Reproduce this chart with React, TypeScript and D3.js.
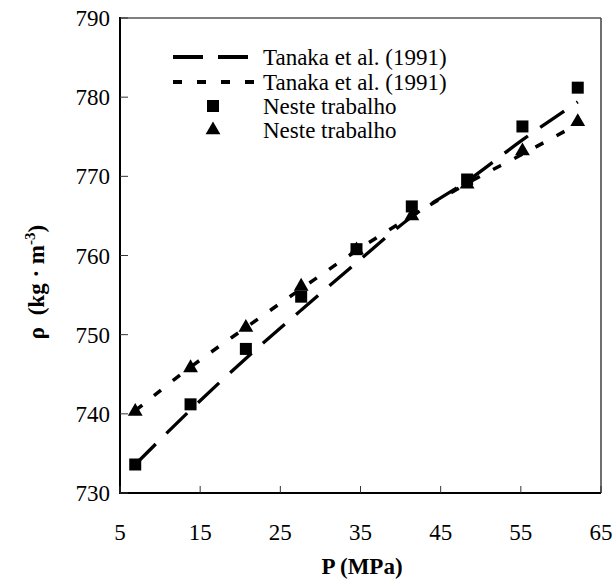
import React from "react";
import * as d3 from "d3";

const pressure = [6.9, 13.8, 20.7, 27.6, 34.5, 41.4, 48.3, 55.2, 62.1];
const nesteSquares = [733.6, 741.2, 748.2, 754.8, 760.8, 766.2, 769.6, 776.3, 781.2];
const nesteTriangles = [740.3, 745.8, 750.9, 756.1, 760.7, 765.0, 769.0, 773.2, 776.9];
const tanakaLong = [733.6, 740.5, 747.0, 753.1, 759.1, 764.9, 769.4, 774.6, 779.4];
const tanakaShort = [740.4, 745.9, 750.9, 755.8, 760.6, 765.0, 769.1, 772.8, 776.6];
const xTicks = [5, 15, 25, 35, 45, 55, 65];
const yTicks = [730, 740, 750, 760, 770, 780, 790];
const legendLabels = ["Tanaka et al. (1991)", "Tanaka et al. (1991)", "Neste trabalho", "Neste trabalho"];

const W = 616, H = 586;
const L = 120, R = 601, T = 18, B = 493;
const FONT = "Liberation Serif, serif";

export default function App() {
  const x = d3.scaleLinear().domain([5, 65]).range([L, R]);
  const y = d3.scaleLinear().domain([730, 790]).range([B, T]);
  const line = d3.line<number>().x((_, i) => x(pressure[i])).y((d) => y(d)).curve(d3.curveMonotoneX);
  const tri = d3.symbol().type(d3.symbolTriangle).size(95)();
  const legendY = [57, 82, 106, 130];
  const ts = { fontFamily: FONT };
  return (
    <svg width={W} height={H} style={{ position: "absolute", left: 0, top: 0, background: "#fff" }}>
      <rect x={0} y={0} width={W} height={H} fill="#fff" />
      <line x1={R} y1={T} x2={R} y2={B} stroke="#222" strokeWidth={1.3} />
      <line x1={L} y1={T} x2={R} y2={T} stroke="#555" strokeWidth={1.3} />
      <line x1={L} y1={T - 1} x2={L} y2={B + 1} stroke="#000" strokeWidth={2} />
      <line x1={L - 1} y1={B} x2={R} y2={B} stroke="#000" strokeWidth={2} />
      {yTicks.map((t) => (
        <g key={"y" + t}>
          <line x1={L} x2={L + 8} y1={y(t)} y2={y(t)} stroke="#333" strokeWidth={1} />
          <text x={L - 10} y={y(t)} dy="0.35em" textAnchor="end" fontSize={23} style={ts}>{t}</text>
        </g>
      ))}
      {xTicks.map((t) => (
        <g key={"x" + t}>
          <line x1={x(t)} x2={x(t)} y1={B} y2={B - 7} stroke="#333" strokeWidth={1} />
          <text x={x(t)} y={540} textAnchor="middle" fontSize={23} style={ts}>{t}</text>
        </g>
      ))}
      <text x={362} y={574} textAnchor="middle" fontSize={23} fontWeight="bold" style={ts}>P (MPa)</text>
      <text transform={`translate(44, 282) rotate(-90)`} textAnchor="middle" fontSize={23} fontWeight="bold" style={ts}>
        ρ{"\u00a0\u00a0"}(kg · m<tspan dy="-9" fontSize={15}>-3</tspan><tspan dy="9">)</tspan>
      </text>
      <path d={line(tanakaLong) || ""} fill="none" stroke="#000" strokeWidth={3.3} strokeDasharray="29,15" />
      <path d={line(tanakaShort) || ""} fill="none" stroke="#000" strokeWidth={3.5} strokeDasharray="9,15" />
      {nesteSquares.map((v, i) => (
        <rect key={"s" + i} x={x(pressure[i]) - 6} y={y(v) - 6} width={12} height={12} fill="#000" />
      ))}
      {nesteTriangles.map((v, i) => (
        <path key={"t" + i} d={tri || ""} transform={`translate(${x(pressure[i])},${y(v)})`} fill="#000" />
      ))}
      <line x1={173} x2={255} y1={legendY[0]} y2={legendY[0]} stroke="#000" strokeWidth={4} strokeDasharray="30,15" />
      <line x1={173} x2={256} y1={legendY[1]} y2={legendY[1]} stroke="#000" strokeWidth={4} strokeDasharray="9,15" />
      <rect x={213 - 6} y={legendY[2] - 6} width={12} height={12} fill="#000" />
      <path d={tri || ""} transform={`translate(213,${legendY[3]})`} fill="#000" />
      {legendLabels.map((s, i) => (
        <text key={"l" + i} x={263} y={legendY[i]} dy="0.35em" fontSize={23} style={ts}>{s}</text>
      ))}
    </svg>
  );
}
